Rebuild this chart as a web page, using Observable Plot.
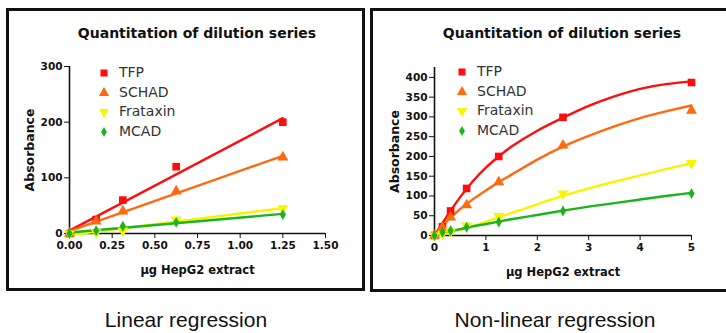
<!DOCTYPE html>
<html>
<head>
<meta charset="utf-8">
<script src="https://cdn.jsdelivr.net/npm/d3@7"></script>
<script src="https://cdn.jsdelivr.net/npm/@observablehq/plot@0.6"></script>
<style>
  html, body { margin: 0; padding: 0; background: #fff; }
  #page { position: relative; width: 726px; height: 333px; overflow: hidden; background: #fff; }
  .panel { position: absolute; box-sizing: border-box; border: 3px solid #111; }
  .title { position: absolute; font-family: "DejaVu Sans", sans-serif; font-weight: bold; font-size: 14px; color: #111; white-space: nowrap; transform: translateX(-50%); }
  .caption { position: absolute; font-family: "Liberation Sans", Arial, sans-serif; font-size: 21px; color: #111; white-space: nowrap; transform: translateX(-50%); }
  .chart { position: absolute; top: 0; }
  .legend { position: absolute; font-family: "DejaVu Sans", sans-serif; font-size: 14px; color: #333; }
  .legend .row { position: absolute; white-space: nowrap; height: 20px; }
  .legend svg { position: absolute; left: -8px; top: -8px; overflow: visible; }
  .legend span { position: absolute; left: 15px; top: -10px; line-height: 18px; }
</style>
</head>
<body>
<div id="page"></div>
<script>
// ---------- data ----------
const seriesNames = ["TFP", "SCHAD", "Frataxin", "MCAD"];
const chartTitle = "Quantitation of dilution series";
const xLabel = "µg HepG2 extract";
const yLabel = "Absorbance";
const captions = ["Linear regression", "Non-linear regression"];

// Linear panel (µg extract)
const linX = [0, 0.156, 0.3125, 0.625, 1.25];
const linTFP = [0, 25, 60, 120, 200];
const linSCHAD = [0, 22, 40, 76, 137];
const linFrataxin = [0, 2, 5, 25, 45];
const linMCAD = [0, 5, 13, 20, 34];
const linXTicks = [0, 0.25, 0.5, 0.75, 1, 1.25, 1.5];
const linYTicks = [0, 100, 200, 300];

// Non-linear panel
const nlX = [0, 0.156, 0.3125, 0.625, 1.25, 2.5, 5];
const nlTFP = [0, 22, 62, 119, 200, 299, 387];
const nlSCHAD = [0, 20, 46, 77, 135, 228, 316];
const nlFrataxin = [0, 4, 10, 25, 49, 106, 183];
const nlMCAD = [0, 8, 12, 21, 34, 62, 106];
const nlXTicks = [0, 1, 2, 3, 4, 5];
const nlYTicks = [0, 50, 100, 150, 200, 250, 300, 350, 400];

// Fitted curves
const fitX = [0, 0.25, 0.5, 0.75, 1, 1.25, 1.5, 2, 2.5, 3, 3.5, 4, 4.5, 5];
const fitTFP = [0, 50, 97, 138, 172, 200, 225, 265, 298, 328, 352, 371, 383, 390];
const fitSCHAD = [0, 37, 67, 92, 114, 135, 154, 192, 225, 252, 276, 297, 314, 329];
const fitFrataxin = [0, 6, 14, 24, 35, 46, 57, 79, 100, 119, 136, 152, 168, 183];
const fitMCAD = [0, 9, 16, 23, 29, 35, 41, 52, 63, 73, 82, 91, 100, 108];

// ---------- styles ----------
const colors = ["#ff0d0d", "#ff6a10", "#f5f500", "#1cb41c"];
const triangleDown = {
  draw(ctx, size) {
    const y = -Math.sqrt(size / (Math.sqrt(3) * 3));
    ctx.moveTo(0, -y * 2);
    ctx.lineTo(-Math.sqrt(3) * y, y);
    ctx.lineTo(Math.sqrt(3) * y, y);
    ctx.closePath();
  }
};
const symbols = [d3.symbolSquare, d3.symbolTriangle, triangleDown, d3.symbolDiamond];
const symbolR = [4.3, 4.1, 4.1, 3.3];

function rows(xs, ys, series) { return xs.map((x, i) => ({series, x, y: ys[i]})); }

const linSeries = [linTFP, linSCHAD, linFrataxin, linMCAD].map((ys, i) => rows(linX, ys, seriesNames[i]));
const nlSeries = [nlTFP, nlSCHAD, nlFrataxin, nlMCAD].map((ys, i) => rows(nlX, ys, seriesNames[i]));
const fitSeries = [fitTFP, fitSCHAD, fitFrataxin, fitMCAD].map((ys, i) => rows(fitX, ys, seriesNames[i]));

const page = document.getElementById("page");

function panelBox(left, top, w, h) {
  const d = document.createElement("div");
  d.className = "panel";
  Object.assign(d.style, {left: left + "px", top: top + "px", width: w + "px", height: h + "px"});
  page.appendChild(d);
}
function addText(cls, text, x, y) {
  const d = document.createElement("div");
  d.className = cls;
  d.textContent = text;
  Object.assign(d.style, {left: x + "px", top: y + "px"});
  page.appendChild(d);
}
function addLegend(left, top) {
  const lg = document.createElement("div");
  lg.className = "legend";
  Object.assign(lg.style, {left: left + "px", top: top + "px"});
  seriesNames.forEach((name, i) => {
    const row = document.createElement("div");
    row.className = "row";
    row.style.top = (i * 19.7) + "px";
    const sym = d3.symbol(symbols[i], Math.PI * symbolR[i] * symbolR[i] * 0.85)();
    row.innerHTML = `<svg width="16" height="16"><path transform="translate(8,8)" d="${sym}" fill="${colors[i]}"></path></svg><span>${name}</span>`;
    lg.appendChild(row);
  });
  page.appendChild(lg);
}

function makeChart({left, width, height, margins, xDomain, yDomain, xTicks, yTicks, xFmt, series, fits, linear}) {
  const marks = [
    Plot.ruleY([0], {stroke: "#111", strokeWidth: 2}),
    Plot.ruleX([0], {stroke: "#111", strokeWidth: 2})
  ];
  series.forEach((data, i) => {
    if (linear) {
      marks.push(Plot.linearRegressionY(data, {x: "x", y: "y", stroke: colors[i], strokeWidth: 2.4, ci: 0}));
    } else {
      marks.push(Plot.line(fits[i], {x: "x", y: "y", stroke: colors[i], strokeWidth: 2.4, curve: "natural"}));
    }
  });
  series.forEach((data, i) => {
    marks.push(Plot.dot(data, {x: "x", y: "y", fill: colors[i], symbol: symbols[i], r: symbolR[i], stroke: "none"}));
  });
  const chart = Plot.plot({
    width, height,
    marginLeft: margins[0], marginRight: margins[1], marginTop: margins[2], marginBottom: margins[3],
    style: {fontFamily: "DejaVu Sans, sans-serif", fontSize: "10.5px", fontWeight: "bold", color: "#111", background: "transparent", overflow: "visible"},
    x: {domain: xDomain, ticks: xTicks, tickFormat: xFmt, tickSize: 5, tickPadding: 3, label: xLabel, labelAnchor: "center", labelOffset: 40, labelArrow: "none"},
    y: {domain: yDomain, ticks: yTicks, tickFormat: d3.format("d"), tickSize: 5, tickPadding: 2, label: yLabel, labelAnchor: "center", labelOffset: 44, labelArrow: "none"},
    marks
  });
  chart.classList.add("chart");
  chart.style.left = left + "px";
  chart.querySelectorAll("text").forEach(t => {
    const s = t.textContent;
    if (s.includes(xLabel) || s.includes(yLabel)) {
      t.textContent = s.replace(/[↑↓→←]/g, "").trim();
      t.style.fontSize = s.includes(xLabel) ? "11.5px" : "12.5px";
    }
  });
  chart.querySelectorAll("line").forEach(l => l.setAttribute("stroke-width", "1.6"));
  page.appendChild(chart);
}

// Panels
panelBox(6, 8, 359, 283);
panelBox(370, 8, 362, 284);

addText("title", chartTitle, 197, 25);
addText("title", chartTitle, 562, 25);

makeChart({left: 0, width: 363, height: 290, margins: [69, 38, 66, 57],
  xDomain: [0, 1.5], yDomain: [0, 300], xTicks: linXTicks, yTicks: linYTicks,
  xFmt: d3.format(".2f"), series: linSeries, linear: true});
makeChart({left: 363, width: 363, height: 290, margins: [71, 35, 67, 55],
  xDomain: [0, 5], yDomain: [0, 425], xTicks: nlXTicks, yTicks: nlYTicks,
  xFmt: d3.format("d"), series: nlSeries, fits: fitSeries, linear: false});

addLegend(104, 73);
addLegend(462, 72);

addText("caption", captions[0], 186, 308);
addText("caption", captions[1], 555, 308);
</script>
</body>
</html>
